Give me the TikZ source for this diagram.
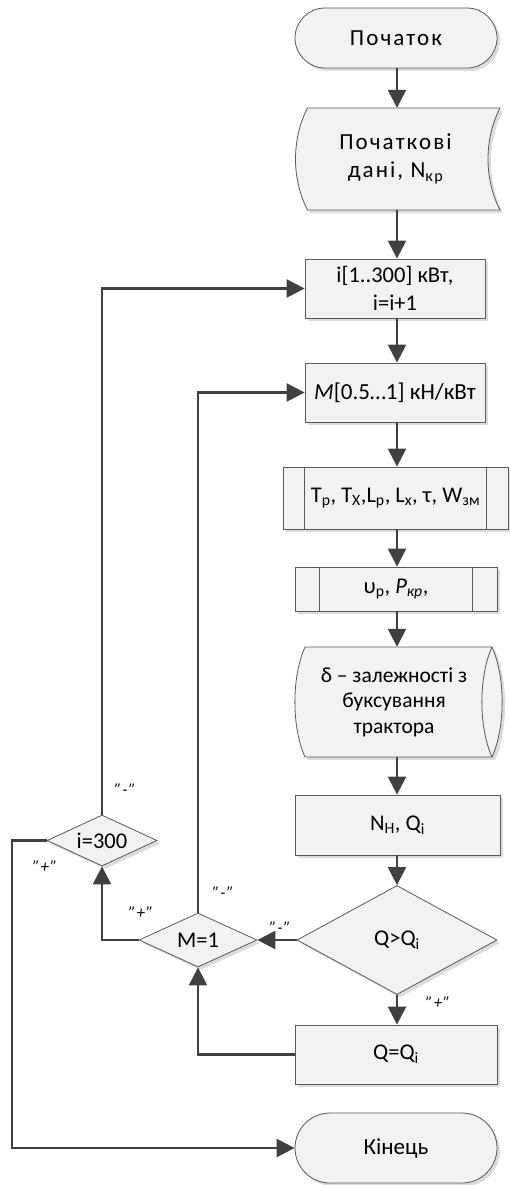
\documentclass[tikz,border=0pt]{standalone}
\usepackage{fontspec}
\setmainfont{Carlito}
\newfontfamily\spacedfont[LetterSpace=9]{Carlito}
\usetikzlibrary{shapes.geometric,arrows.meta,shadows}
\definecolor{linec}{HTML}{404040}
\definecolor{edgec}{HTML}{595959}
\definecolor{fillc}{HTML}{F2F2F2}
\definecolor{shadc}{HTML}{DCDCDC}
\newcommand{\mainfs}{\fontsize{22.5}{28}\selectfont}
\begin{document}
\begin{tikzpicture}[x=1pt,y=-1pt,
  conn/.style={draw=linec,line width=2.5pt,-{Triangle[length=18pt,width=18pt]}},
  shp/.style={draw=edgec,line width=0.8pt,fill=fillc},
  shd/.style={fill=shadc,draw=none},
  sh/.style={drop shadow={shadow xshift=3pt,shadow yshift=-3pt,fill=shadc,opacity=1}},
  box/.style={shp,sh,rectangle,inner sep=0pt,font=\mainfs,align=center},
  txt/.style={inner sep=0pt,font=\mainfs,align=center},
  term/.style={box,minimum width=202pt,rounded corners=30pt},
  dec/.style={shp,sh,diamond,inner sep=0pt,font=\mainfs},
  lbl/.style={inner sep=0pt,font=\fontsize{17}{17}\selectfont\itshape}
]
\useasboundingbox (0,0) rectangle (510,1185);

% start
\node[term,minimum height=60pt,font=\fontsize{23}{28}\spacedfont] (start) at (396,38) {Початок};

% data shape (stored data)
\begin{scope}[shift={(397.5,159)}]
  \path[shd,shift={(3,3)}] (-90,-51) -- (102.5,-51) .. controls (86.5,-20) and (86.5,20) .. (102.5,51) -- (-90,51) .. controls (-106,20) and (-106,-20) .. (-90,-51) -- cycle;
  \path[shp] (-90,-51) -- (102.5,-51) .. controls (86.5,-20) and (86.5,20) .. (102.5,51) -- (-90,51) .. controls (-106,20) and (-106,-20) .. (-90,-51) -- cycle;
\end{scope}
\node[txt,minimum width=205pt,minimum height=102pt,font=\fontsize{23}{28}\spacedfont] (data) at (395.5,159) {Початкові\\дані, N\textsubscript{кр}};

% boxes
\node[box,minimum width=180pt,minimum height=59pt] (boxI) at (395,288.5) {i[1..300] кВт,\\i=i+1};
\node[box,minimum width=180pt,minimum height=59pt,font=\fontsize{23}{28}\selectfont] (boxM) at (395,392.5) {\textit{M}[0.5…1] кН/кВт};

\node[box,minimum width=225pt,minimum height=62pt] (pp1) at (395.5,498) {T\textsubscript{р}, T\textsubscript{Х},L\textsubscript{р}, L\textsubscript{х}, τ, W\textsubscript{зм}};
\draw[edgec,line width=0.8pt] ([xshift=22pt]pp1.north west) -- ([xshift=22pt]pp1.south west);
\draw[edgec,line width=0.8pt] ([xshift=-22pt]pp1.north east) -- ([xshift=-22pt]pp1.south east);

\node[box,minimum width=202pt,minimum height=44pt] (pp2) at (396,589) {υ\textsubscript{р}, \textit{P\textsubscript{кр}},};
\draw[edgec,line width=0.8pt] ([xshift=25pt]pp2.north west) -- ([xshift=25pt]pp2.south west);
\draw[edgec,line width=0.8pt] ([xshift=-25pt]pp2.north east) -- ([xshift=-25pt]pp2.south east);

% cylinder (direct access storage)
\begin{scope}[shift={(398.5,702)}]
  \path[shd,shift={(3,3)}] (-93.5,-55) -- (93.5,-55) .. controls (107,-25) and (107,25) .. (93.5,55) -- (-93.5,55) .. controls (-107,25) and (-107,-25) .. (-93.5,-55) -- cycle;
  \path[shp] (-93.5,-55) -- (93.5,-55) .. controls (107,-25) and (107,25) .. (93.5,55) -- (-93.5,55) .. controls (-107,25) and (-107,-25) .. (-93.5,-55) -- cycle;
  \draw[edgec,line width=0.8pt] (93.5,-55) .. controls (80,-25) and (80,25) .. (93.5,55);
\end{scope}
\node[txt,minimum width=190pt,minimum height=110pt,font=\fontsize{21.5}{25.5}\selectfont] (cyl) at (394,702) {δ – залежності з\\буксування\\трактора};

\node[box,minimum width=205pt,minimum height=60pt] (nh) at (397.5,825) {N\textsubscript{Н}, Q\textsubscript{i}};

\node[dec,minimum width=200pt,minimum height=109pt,aspect=1.83] (qd) at (397,940) {Q>Q\textsubscript{i}};
\node[dec,minimum width=118pt,minimum height=54pt,aspect=2.18] (m1) at (198,940) {M=1};
\node[dec,minimum width=110pt,minimum height=51pt,aspect=2.15] (i300) at (102,840.5) {i=300};

\node[box,minimum width=202pt,minimum height=59pt] (qe) at (396,1054.5) {Q=Q\textsubscript{i}};
\node[term,minimum height=70pt,rounded corners=35pt,font=\fontsize{23}{28}\selectfont] (fin) at (396,1148) {Кінець};

\coordinate (lft) at (12,1000);

% connectors
\draw[conn] (start.south -| 397,0) -- (397,0 |- data.north);
\draw[conn] (397,0 |- data.south) -- (397,0 |- boxI.north);
\draw[conn] (397,0 |- boxI.south) -- (397,0 |- boxM.north);
\draw[conn] (397,0 |- boxM.south) -- (397,0 |- pp1.north);
\draw[conn] (397,0 |- pp1.south) -- (397,0 |- pp2.north);
\draw[conn] (397,0 |- pp2.south) -- (397,0 |- cyl.north);
\draw[conn] (397,0 |- cyl.south) -- (397,0 |- nh.north);
\draw[conn] (397,0 |- nh.south) -- (qd.north);
\draw[conn] (qd.south) -- (qd.south |- qe.north);
\draw[conn] (qd.west) -- (m1.east);
\draw[conn] (m1.north) |- (boxM.west);
\draw[conn] (m1.west) -| (i300.south);
\draw[conn] (i300.north) |- (boxI.west);
\draw[conn] (i300.west) -| (lft) |- (fin.west);
\draw[conn] (qe.west) -| (m1.south);

% labels
\node[lbl] (l1) at (280,928) {"\hspace{1pt}-\hspace{1pt}"};
\node[lbl] (l2) at (438,1003) {"\hspace{1pt}+\hspace{1pt}"};
\node[lbl] (l3) at (223,893) {"\hspace{1pt}-\hspace{1pt}"};
\node[lbl] (l4) at (141,913) {"\hspace{1pt}+\hspace{1pt}"};
\node[lbl] (l5) at (125,790) {"\hspace{1pt}-\hspace{1pt}"};
\node[lbl] (l6) at (45,867) {"\hspace{1pt}+\hspace{1pt}"};
\end{tikzpicture}
\end{document}
